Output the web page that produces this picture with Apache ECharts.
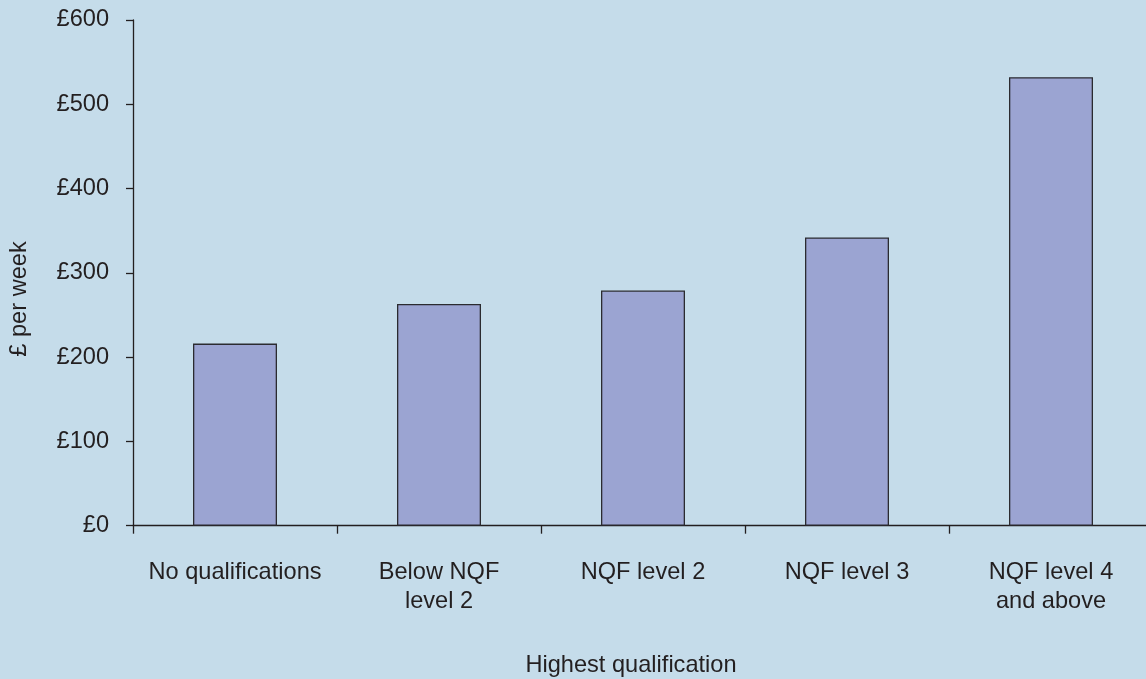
<!DOCTYPE html>
<html>
<head>
<meta charset="utf-8">
<style>
html,body{margin:0;padding:0;background:#c5dcea;}
#chart{width:1146px;height:679px;}
</style>
<script src="https://cdn.jsdelivr.net/npm/echarts@6/dist/echarts.min.js"></script>
</head>
<body>
<div id="chart"></div>
<script>
const categories = ['No qualifications', 'Below NQF\nlevel 2', 'NQF level 2', 'NQF level 3', 'NQF level 4\nand above'];
const weeklyPay = [216, 263, 279, 342, 532];
const yTicks = [0, 100, 200, 300, 400, 500, 600];
const yAxisTitle = '£ per week';
const xAxisTitle = 'Highest qualification';

const textColor = '#231f20';
const font = 'Liberation Sans, Arial, sans-serif';
const fs = 23.6;

const chart = echarts.init(document.getElementById('chart'));
chart.setOption({
  backgroundColor: '#c5dcea',
  animation: false,
  grid: { left: 133, top: 19.9, bottom: 153.3, width: 1020, containLabel: false, outerBoundsMode: 'none' },
  xAxis: {
    type: 'category',
    data: categories,
    axisLine: { lineStyle: { color: textColor, width: 1.3 } },
    axisTick: { show: true, length: 8, inside: false, lineStyle: { color: textColor, width: 1.3 } },
    axisLabel: { color: textColor, fontSize: fs, fontFamily: font, margin: 32, lineHeight: 29.5, interval: 0 },
    splitLine: { show: false }
  },
  yAxis: {
    type: 'value',
    min: yTicks[0],
    max: yTicks[yTicks.length - 1],
    interval: 100,
    axisLine: { show: true, lineStyle: { color: textColor, width: 1.3 } },
    axisTick: { show: true, length: 7, lineStyle: { color: textColor, width: 1.3 } },
    axisLabel: { color: textColor, fontSize: fs, fontFamily: font, margin: 24, formatter: v => '£' + v },
    splitLine: { show: false }
  },
  graphic: [
    {
      type: 'text', x: 19, y: 299, rotation: Math.PI / 2,
      style: { text: yAxisTitle, fill: textColor, fontSize: fs, fontFamily: font, align: 'center', verticalAlign: 'middle' }
    },
    {
      type: 'text', x: 631, y: 665,
      style: { text: xAxisTitle, fill: textColor, fontSize: fs, fontFamily: font, align: 'center', verticalAlign: 'middle' }
    }
  ],
  series: [{
    type: 'bar',
    data: weeklyPay,
    barWidth: 84,
    itemStyle: { color: '#9ba4d2', borderColor: '#2b2b30', borderWidth: 1.3 }
  }]
});
</script>
</body>
</html>
